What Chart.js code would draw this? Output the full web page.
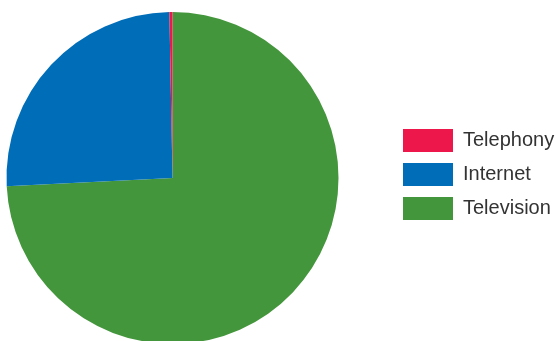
<!DOCTYPE html>
<html>
<head>
<meta charset="utf-8">
<script src="https://cdn.jsdelivr.net/npm/chart.js@4/dist/chart.umd.min.js"></script>
<style>
  html, body { margin: 0; padding: 0; width: 555px; height: 341px; overflow: hidden; background: #fff; }
  #c { position: absolute; left: -47px; top: 0; }
</style>
</head>
<body>
<canvas id="c" width="609" height="344"></canvas>
<script>
const categories = ['Telephony', 'Internet', 'Television'];
const shares = [0.3, 25.5, 74.2];
const colors = ['#ED174C', '#006DB8', '#44963C'];

// Reference draws slices counter-clockwise from the top; emulate by reversing order
const chartLabels = categories.slice().reverse();
const chartData = shares.slice().reverse();
const chartColors = colors.slice().reverse();

new Chart(document.getElementById('c'), {
  type: 'pie',
  data: {
    labels: chartLabels,
    datasets: [{
      data: chartData,
      backgroundColor: chartColors,
      borderWidth: 0,
      hoverOffset: 0
    }]
  },
  options: {
    responsive: false,
    devicePixelRatio: 1,
    animation: false,
    layout: { padding: { top: 12, left: 0, right: 0, bottom: 0 } },
    plugins: {
      tooltip: { enabled: false },
      legend: {
        position: 'right',
        align: 'start',
        reverse: true,
        maxWidth: 170,
        title: { display: true, text: ' ', padding: 47, font: { size: 10 } },
        labels: {
          boxWidth: 50,
          boxHeight: 23,
          padding: 11,
          color: '#333',
          font: { family: 'Liberation Sans', size: 20 }
        }
      }
    }
  }
});
</script>
</body>
</html>
